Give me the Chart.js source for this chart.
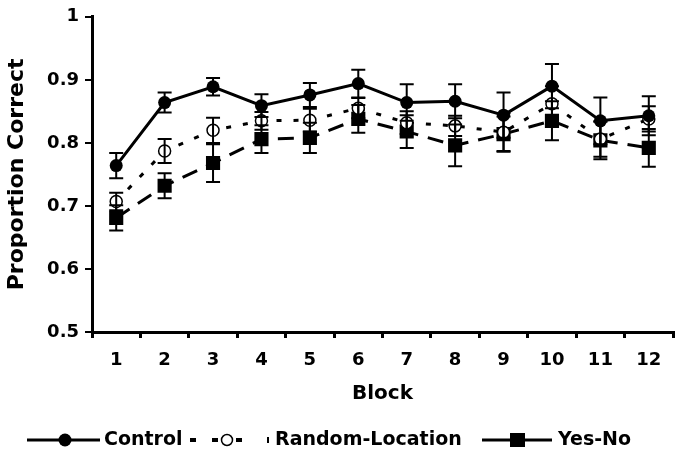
<!DOCTYPE html>
<html>
<head>
<meta charset="utf-8">
<script src="https://cdn.jsdelivr.net/npm/chart.js@4"></script>
<style>
  html, body { margin: 0; padding: 0; background: #fff; }
  #wrap { width: 683px; height: 457px; }
</style>
</head>
<body>
<div id="wrap"><canvas id="chart" width="683" height="457"></canvas></div>
<script>
// ===== Data =====
const blocks = ['1', '2', '3', '4', '5', '6', '7', '8', '9', '10', '11', '12'];

const controlVals = [0.764, 0.864, 0.889, 0.859, 0.876, 0.894, 0.864, 0.866, 0.844, 0.890, 0.835, 0.843];
const controlErr  = [0.020, 0.016, 0.014, 0.018, 0.019, 0.022, 0.029, 0.027, 0.036, 0.035, 0.037, 0.031];

const randomVals = [0.707, 0.787, 0.820, 0.835, 0.836, 0.855, 0.832, 0.827, 0.817, 0.862, 0.806, 0.838];
const randomErr  = [0.014, 0.019, 0.020, 0.014, 0.018, 0.016, 0.018, 0.016, 0.030, 0.028, 0.028, 0.020];

const yesNoVals = [0.681, 0.732, 0.768, 0.806, 0.808, 0.838, 0.818, 0.796, 0.814, 0.835, 0.804, 0.792];
const yesNoErr  = [0.020, 0.020, 0.030, 0.022, 0.024, 0.022, 0.026, 0.033, 0.028, 0.031, 0.030, 0.030];

const yTicks = [0.5, 0.6, 0.7, 0.8, 0.9, 1];

const FONT = "'DejaVu Sans', Verdana, sans-serif";

// ===== Error bars =====
const errorBars = {
  id: 'errorBars',
  afterDatasetsDraw(chart) {
    const { ctx, scales: { y } } = chart;
    ctx.save();
    ctx.strokeStyle = '#000';
    ctx.lineWidth = 2;
    chart.data.datasets.forEach((ds, i) => {
      const meta = chart.getDatasetMeta(i);
      meta.data.forEach((pt, j) => {
        const e = ds.errors[j];
        const yTop = y.getPixelForValue(ds.data[j] + e);
        const yBot = y.getPixelForValue(ds.data[j] - e);
        const x = pt.x;
        ctx.beginPath();
        ctx.moveTo(x, yTop); ctx.lineTo(x, yBot);
        ctx.moveTo(x - 7, yTop); ctx.lineTo(x + 7, yTop);
        ctx.moveTo(x - 7, yBot); ctx.lineTo(x + 7, yBot);
        ctx.stroke();
      });
    });
    ctx.restore();
  }
};

// ===== Bottom legend =====
const bottomLegend = {
  id: 'bottomLegend',
  afterDraw(chart) {
    const { ctx } = chart;
    const yc = 440;
    ctx.save();
    ctx.strokeStyle = '#000';
    ctx.fillStyle = '#000';
    ctx.lineWidth = 3;
    ctx.font = "bold 19px " + FONT;
    ctx.textBaseline = 'middle';

    // Control
    ctx.beginPath(); ctx.moveTo(27, yc); ctx.lineTo(100, yc); ctx.stroke();
    ctx.beginPath(); ctx.arc(65, yc, 6.5, 0, Math.PI * 2); ctx.fill();
    ctx.fillText('Control', 104, yc);

    // Random-Location
    ctx.fillRect(190, yc - 2, 6, 4);
    ctx.fillRect(212, yc - 2, 6, 4);
    ctx.fillRect(236, yc - 2, 6, 4);
    ctx.lineWidth = 1.5;
    ctx.beginPath(); ctx.arc(227, yc, 5.5, 0, Math.PI * 2);
    ctx.fillStyle = '#fff'; ctx.fill(); ctx.stroke();
    ctx.fillStyle = '#000';
    ctx.fillRect(267, yc - 3, 2, 6);
    ctx.fillText('Random-Location', 275, yc);

    // Yes-No
    ctx.lineWidth = 3;
    ctx.beginPath(); ctx.moveTo(482, yc); ctx.lineTo(552, yc); ctx.stroke();
    ctx.fillRect(510, yc - 7, 15, 14);
    ctx.fillText('Yes-No', 558, yc);
    ctx.restore();
  }
};

// ===== Chart =====
new Chart(document.getElementById('chart'), {
  type: 'line',
  data: {
    labels: blocks,
    datasets: [
      {
        label: 'Control', data: controlVals, errors: controlErr,
        borderColor: '#000', borderWidth: 3, backgroundColor: '#000',
        pointStyle: 'circle', pointRadius: 6.5, pointBorderWidth: 0, tension: 0
      },
      {
        label: 'Random-Location', data: randomVals, errors: randomErr,
        borderColor: '#000', borderWidth: 3, borderDash: [5, 12], backgroundColor: '#fff',
        pointStyle: 'circle', pointRadius: 6, pointBorderWidth: 1.5, pointBackgroundColor: '#fff',
        pointBorderColor: '#000', tension: 0
      },
      {
        label: 'Yes-No', data: yesNoVals, errors: yesNoErr,
        borderColor: '#000', borderWidth: 3, borderDash: [16, 10], backgroundColor: '#000',
        pointStyle: 'rect', pointRadius: 10, pointBorderWidth: 0, tension: 0
      }
    ]
  },
  options: {
    responsive: false,
    animation: false,
    layout: { padding: { left: 0, right: 10, top: 12, bottom: 47 } },
    plugins: { legend: { display: false }, tooltip: { enabled: false } },
    scales: {
      x: {
        offset: true,
        grid: { offset: true, drawOnChartArea: false, color: '#000', lineWidth: 3, tickLength: 6 },
        border: { color: '#000', width: 3 },
        ticks: { color: '#000', font: { family: FONT, size: 18, weight: 'bold' }, padding: 12, maxRotation: 0 },
        title: { display: true, text: 'Block', color: '#000', font: { family: FONT, size: 20, weight: 'bold' }, padding: { top: 18 } },
        afterFit: s => { s.height = 78; }
      },
      y: {
        min: 0.5, max: 1,
        afterBuildTicks: s => { s.ticks = yTicks.map(v => ({ value: v })); },
        grid: { drawOnChartArea: false, color: '#000', lineWidth: 2, tickLength: 7 },
        border: { color: '#000', width: 3 },
        ticks: { color: '#000', font: { family: FONT, size: 18, weight: 'bold' }, padding: 6,
                 callback: v => String(v) },
        title: { display: true, text: 'Proportion Correct', color: '#000', font: { family: FONT, size: 22, weight: 'bold' }, padding: { top: 4, bottom: 0 } },
        afterFit: s => { s.width = 92; }
      }
    }
  },
  plugins: [errorBars, bottomLegend]
});
</script>
</body>
</html>
